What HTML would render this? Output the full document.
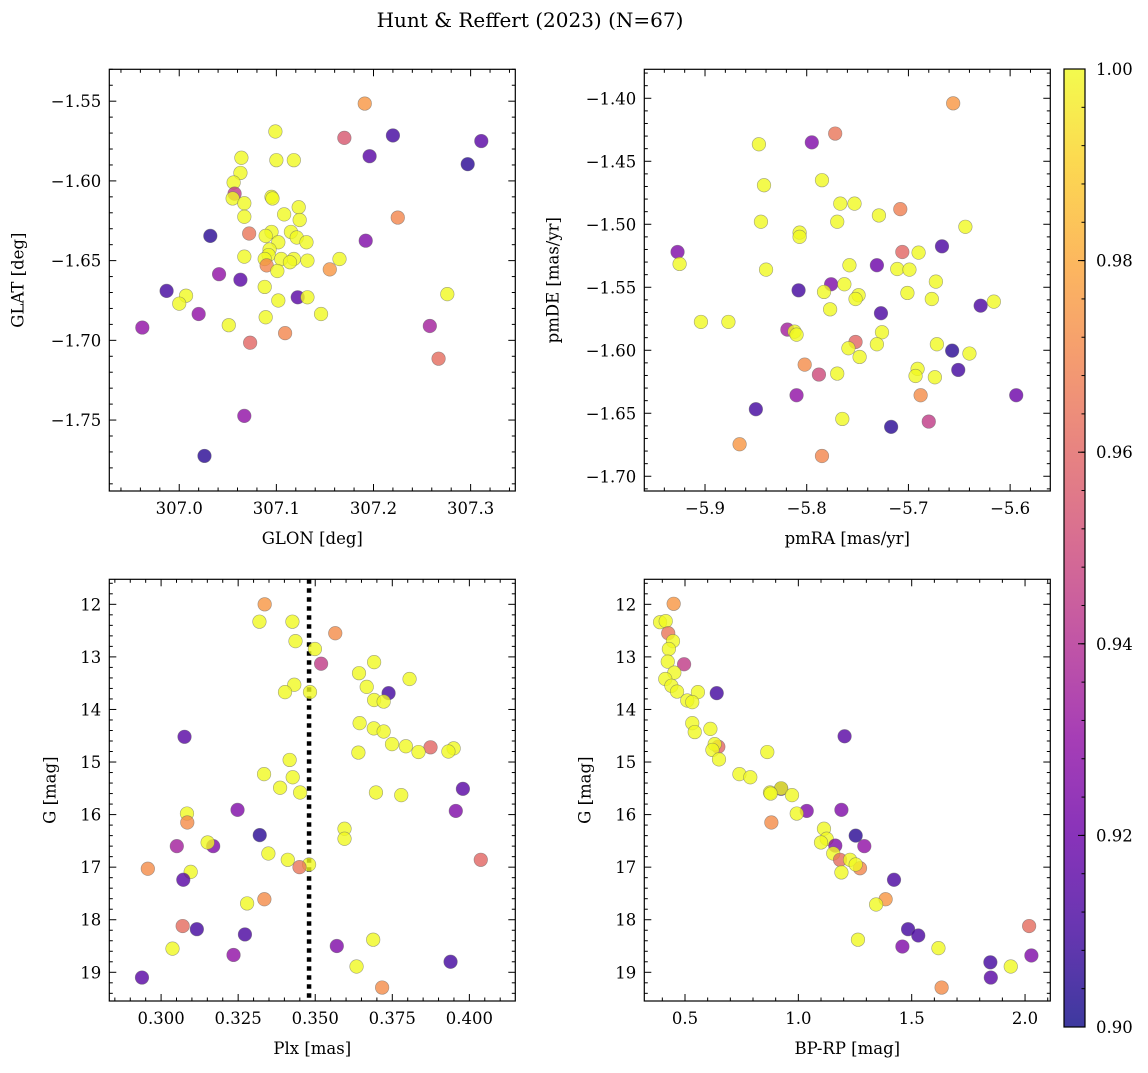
<!DOCTYPE html>
<html><head><meta charset="utf-8"><style>
body{margin:0;background:#fff;}
svg text{font-family:"DejaVu Serif","Liberation Serif",serif;fill:#000;}
</style></head><body>
<svg id="fig" width="1148" height="1068" xmlns="http://www.w3.org/2000/svg">
<rect width="1148" height="1068" fill="#fff"/>
<text x="530" y="27" font-size="20" text-anchor="middle">Hunt &amp; Reffert (2023) (N=67)</text>
</svg>
<script>
// Panel 1: GLON vs GLAT
const glon1=[307.191,307.099,307.170,307.220,307.311,307.196,307.297,307.064,307.100,307.118,307.063,307.056,307.057,307.055,307.095,307.096,307.067,307.123,307.108,307.067,307.124,307.225,307.032,307.072,307.095,307.089,307.115,307.121,307.102,307.131,307.192,307.093,307.092,307.067,307.088,307.105,307.118,307.114,307.132,307.165,307.090,307.101,307.155,307.041,307.063,307.088,306.987,307.007,307.000,307.122,307.132,307.102,307.276,307.020,307.146,307.089,307.051,306.962,307.258,307.109,307.073,307.267,307.067,307.026];
const glat1=[-1.5515,-1.569,-1.573,-1.5715,-1.575,-1.5845,-1.5895,-1.5855,-1.587,-1.587,-1.595,-1.601,-1.608,-1.611,-1.610,-1.611,-1.614,-1.6165,-1.621,-1.6225,-1.6245,-1.623,-1.6345,-1.633,-1.632,-1.6345,-1.632,-1.6355,-1.6385,-1.6385,-1.6375,-1.643,-1.6465,-1.6475,-1.649,-1.649,-1.649,-1.651,-1.650,-1.649,-1.653,-1.6565,-1.6555,-1.6585,-1.662,-1.6665,-1.669,-1.672,-1.677,-1.673,-1.673,-1.675,-1.671,-1.6835,-1.6835,-1.6855,-1.6905,-1.692,-1.691,-1.6955,-1.7015,-1.7115,-1.7474,-1.7725];
const prob1=[0.975,1,0.955,0.91,0.915,0.915,0.905,1,1,1,1,1,0.945,1,1,1,1,1,1,1,1,0.97,0.905,0.965,1,1,1,1,1,1,0.925,1,1,1,1,1,1,1,1,1,0.97,1,0.975,0.93,0.915,1,0.91,1,1,0.915,1,1,1,0.93,1,1,1,0.93,0.935,0.97,0.96,0.962,0.93,0.905];
// Panel 2: pmRA vs pmDE
const pmra2=[-5.656,-5.772,-5.795,-5.847,-5.785,-5.842,-5.767,-5.753,-5.708,-5.729,-5.845,-5.770,-5.644,-5.807,-5.807,-5.667,-5.927,-5.706,-5.690,-5.925,-5.758,-5.731,-5.840,-5.711,-5.699,-5.673,-5.776,-5.763,-5.808,-5.783,-5.701,-5.749,-5.752,-5.677,-5.629,-5.616,-5.777,-5.727,-5.904,-5.877,-5.819,-5.812,-5.810,-5.726,-5.752,-5.759,-5.731,-5.672,-5.657,-5.640,-5.748,-5.802,-5.691,-5.788,-5.770,-5.693,-5.651,-5.674,-5.810,-5.688,-5.594,-5.850,-5.765,-5.680,-5.717,-5.866,-5.785];
const pmde2=[-1.404,-1.428,-1.435,-1.4365,-1.465,-1.469,-1.4836,-1.4836,-1.488,-1.493,-1.498,-1.498,-1.502,-1.5066,-1.510,-1.5175,-1.522,-1.522,-1.5225,-1.5315,-1.5325,-1.5325,-1.536,-1.5355,-1.536,-1.5455,-1.5476,-1.5476,-1.5524,-1.5537,-1.5545,-1.5563,-1.5593,-1.5593,-1.5646,-1.5614,-1.5675,-1.5706,-1.5775,-1.5775,-1.5836,-1.5852,-1.5876,-1.5857,-1.5934,-1.5984,-1.5952,-1.5952,-1.6003,-1.6026,-1.6053,-1.6114,-1.6148,-1.6193,-1.6185,-1.6204,-1.6156,-1.6214,-1.6357,-1.6357,-1.6357,-1.6468,-1.6545,-1.6566,-1.6608,-1.6746,-1.6839];
const prob2=[0.975,0.965,0.925,1,1,1,1,1,0.968,1,1,1,1,1,1,0.912,0.925,0.96,1,1,1,0.92,1,1,1,1,0.925,1,0.91,1,1,1,1,1,0.912,1,1,0.912,1,1,0.935,1,1,1,0.96,1,1,1,0.905,1,1,0.972,1,0.95,1,1,0.91,1,0.93,0.972,0.92,0.91,1,0.945,0.905,0.975,0.97];
// Panel 3: Plx vs G
const plx3=[0.3336,0.3319,0.3426,0.3565,0.3436,0.3499,0.3519,0.3691,0.3642,0.3806,0.3432,0.3667,0.3402,0.3483,0.3738,0.3691,0.3722,0.3644,0.3690,0.3722,0.3749,0.3794,0.3874,0.3835,0.3949,0.3932,0.3640,0.3076,0.3417,0.3334,0.3427,0.3386,0.3451,0.3697,0.3779,0.3979,0.3248,0.3084,0.3085,0.3956,0.3595,0.3595,0.3320,0.3051,0.3169,0.3151,0.3348,0.3411,0.3480,0.3449,0.4037,0.2957,0.3096,0.3072,0.3335,0.3279,0.3070,0.3116,0.3272,0.3037,0.3570,0.3688,0.3235,0.3634,0.3939,0.2938,0.3717];
const g3=[12.00,12.33,12.33,12.55,12.70,12.85,13.13,13.10,13.31,13.42,13.53,13.57,13.67,13.67,13.69,13.82,13.85,14.26,14.36,14.42,14.66,14.70,14.72,14.81,14.74,14.80,14.82,14.52,14.96,15.23,15.29,15.49,15.58,15.58,15.63,15.51,15.91,15.98,16.15,15.93,16.27,16.46,16.39,16.60,16.60,16.53,16.74,16.86,16.95,17.00,16.86,17.03,17.09,17.24,17.61,17.69,18.12,18.18,18.28,18.55,18.50,18.38,18.67,18.89,18.80,19.10,19.29];
const prob3=[0.975,1,1,0.972,1,1,0.945,1,1,1,1,1,1,1,0.91,1,1,1,1,1,1,1,0.96,1,1,1,1,0.915,1,1,1,1,1,1,1,0.915,0.925,1,0.972,0.925,1,1,0.905,0.935,0.925,1,1,1,1,0.965,0.96,0.972,1,0.915,0.972,1,0.962,0.91,0.912,1,0.925,1,0.93,1,0.91,0.915,0.972];
const plxMean=0.348;
// Panel 4: BP-RP vs G
const bprp4=[0.450,0.390,0.415,0.426,0.447,0.429,0.496,0.424,0.453,0.413,0.440,0.465,0.557,0.640,0.510,0.532,0.532,0.543,0.612,1.204,0.647,0.631,0.621,0.650,0.863,0.740,0.788,0.924,0.924,0.875,0.878,0.972,1.037,0.993,1.190,0.881,1.113,1.125,1.100,1.163,1.253,1.291,1.154,1.184,1.228,1.272,1.253,1.190,1.422,1.385,1.343,1.484,1.529,1.263,1.459,1.618,2.018,2.028,1.847,1.937,1.849,1.632];
const g4=[11.99,12.34,12.32,12.55,12.70,12.85,13.14,13.09,13.30,13.42,13.55,13.66,13.67,13.69,13.83,13.86,14.26,14.43,14.37,14.51,14.71,14.66,14.77,14.95,14.81,15.23,15.29,15.51,15.50,15.58,15.60,15.63,15.93,15.98,15.91,16.15,16.27,16.46,16.53,16.59,16.40,16.60,16.74,16.86,16.86,17.02,16.95,17.10,17.24,17.61,17.71,18.18,18.30,18.38,18.51,18.54,18.12,18.68,18.81,18.89,19.10,19.29];
const prob4=[0.975,1,1,0.965,1,1,0.945,1,1,1,1,1,1,0.91,1,1,1,1,1,0.915,0.96,1,1,1,1,1,1,0.912,1,1,1,1,0.925,1,0.925,0.972,1,1,1,0.925,0.905,0.93,1,0.962,1,0.97,1,1,0.912,0.975,1,0.91,0.912,1,0.925,1,0.962,0.925,0.91,1,0.915,0.972];
const cbTicks=[0.90,0.92,0.94,0.96,0.98,1.00];

const NS='http://www.w3.org/2000/svg';
const svg=document.getElementById('fig');
const stops=['#0d0887','#41049d','#6a00a8','#8f0da4','#b12a90','#cc4778','#e16462','#f2844b','#fca636','#fcce25','#f0f921'];
function hx(h){return [parseInt(h.substr(1,2),16),parseInt(h.substr(3,2),16),parseInt(h.substr(5,2),16)];}
function plasma(t){t=Math.max(0,Math.min(1,t));const f=t*10;const i=Math.min(9,Math.floor(f));const u=f-i;const a=hx(stops[i]),b=hx(stops[i+1]);
return 'rgb('+a.map((v,k)=>Math.round(v+(b[k]-v)*u)).join(',')+')';}
function cmap(p){return plasma((p-0.9)/0.1);}
function el(tag,attrs,parent){const e=document.createElementNS(NS,tag);for(const k in attrs)e.setAttribute(k,attrs[k]);(parent||svg).appendChild(e);return e;}
function fmt(v,d){return (v<0?'\u2212':'')+Math.abs(v).toFixed(d);}
const FS=16.5;

function panel(o){
  const g=el('g',{});
  
  
  const sx=v=>o.x0+(v-o.xmin)/(o.xmax-o.xmin)*(o.x1-o.x0);
  const sy=o.inv? (v=>o.y0+(v-o.ymin)/(o.ymax-o.ymin)*(o.y1-o.y0)) : (v=>o.y1-(v-o.ymin)/(o.ymax-o.ymin)*(o.y1-o.y0));
  if(o.vline!==undefined){
    const l=el('line',{x1:sx(o.vline),x2:sx(o.vline),y1:o.y0,y2:o.y1,stroke:'#000','stroke-width':4.5,'stroke-dasharray':'4.5 4.5'},g);
    
    
  }
  for(let i=0;i<o.xs.length;i++){
    const c=el('circle',{cx:sx(o.xs[i]),cy:sy(o.ys[i]),r:6.8,fill:cmap(o.cs[i]),'fill-opacity':0.8,stroke:'#666','stroke-opacity':0.6,'stroke-width':0.6},g);
    
    
  }
  const fr=el('rect',{x:o.x0,y:o.y0,width:o.x1-o.x0,height:o.y1-o.y0,fill:'none',stroke:'#000','stroke-width':1.2},g);
  
  
  const eps=1e-9;
  for(let v=Math.ceil(o.xmin/o.xminor-eps)*o.xminor;v<=o.xmax+eps;v+=o.xminor){
    const X=sx(v);const major=Math.abs(v/o.xmajor-Math.round(v/o.xmajor))<1e-4;const L=major?7:3.5;
    el('line',{x1:X,x2:X,y1:o.y1,y2:o.y1-L,stroke:'#000','stroke-width':1},g);
    el('line',{x1:X,x2:X,y1:o.y0,y2:o.y0+L,stroke:'#000','stroke-width':1},g);
    if(major){const t=el('text',{x:X,y:o.y1+23,'font-size':FS,'text-anchor':'middle'},g);t.textContent=fmt(v,o.xd);
      }
  }
  for(let v=Math.ceil(o.ymin/o.yminor-eps)*o.yminor;v<=o.ymax+eps;v+=o.yminor){
    const Y=sy(v);const major=Math.abs(v/o.ymajor-Math.round(v/o.ymajor))<1e-4;const L=major?7:3.5;
    el('line',{x1:o.x0,x2:o.x0+L,y1:Y,y2:Y,stroke:'#000','stroke-width':1},g);
    el('line',{x1:o.x1,x2:o.x1-L,y1:Y,y2:Y,stroke:'#000','stroke-width':1},g);
    if(major){const t=el('text',{x:o.x0-8,y:Y+6,'font-size':FS,'text-anchor':'end'},g);t.textContent=fmt(v,o.yd);
      }
  }
  const xl=el('text',{x:(o.x0+o.x1)/2,y:o.y1+53,'font-size':FS,'text-anchor':'middle'},g);xl.textContent=o.xlabel;
  
  const yx=o.x0-o.ylOff, yy=(o.y0+o.y1)/2;
  const yl=el('text',{x:yx,y:yy,'font-size':FS,'text-anchor':'middle',transform:'rotate(-90 '+yx+' '+yy+')'},g);yl.textContent=o.ylabel;
  
}

panel({name:'glon-glat-panel',x0:109.3,x1:515.3,y0:69.3,y1:491,xmin:306.928,xmax:307.346,ymin:-1.7945,ymax:-1.530,
  xs:glon1,ys:glat1,cs:prob1,xmajor:0.1,xminor:0.02,ymajor:0.05,yminor:0.01,xd:1,yd:2,xlabel:'GLON [deg]',ylabel:'GLAT [deg]',ylOff:86});
panel({name:'proper-motion-panel',x0:644.3,x1:1050.3,y0:69.3,y1:491,xmin:-5.9597,xmax:-5.5605,ymin:-1.7117,ymax:-1.377,
  xs:pmra2,ys:pmde2,cs:prob2,xmajor:0.1,xminor:0.02,ymajor:0.05,yminor:0.01,xd:1,yd:2,xlabel:'pmRA [mas/yr]',ylabel:'pmDE [mas/yr]',ylOff:86});
panel({name:'parallax-magnitude-panel',x0:109.3,x1:515.3,y0:579.3,y1:1001,xmin:0.2832,xmax:0.4149,ymin:11.524,ymax:19.546,inv:true,
  xs:plx3,ys:g3,cs:prob3,xmajor:0.025,xminor:0.005,ymajor:1,yminor:0.2,xd:3,yd:0,xlabel:'Plx [mas]',ylabel:'G [mag]',ylOff:54,vline:plxMean});
panel({name:'color-magnitude-panel',x0:644.3,x1:1050.3,y0:579.3,y1:1001,xmin:0.3205,xmax:2.1114,ymin:11.524,ymax:19.546,inv:true,
  xs:bprp4,ys:g4,cs:prob4,xmajor:0.5,xminor:0.1,ymajor:1,yminor:0.2,xd:1,yd:0,xlabel:'BP-RP [mag]',ylabel:'G [mag]',ylOff:54});

const cb=el('g',{});


const cbx=1064,cbw=21,cby0=69,cby1=1027;
const defs=el('defs',{},cb);
const lg=el('linearGradient',{id:'cbg',x1:0,y1:1,x2:0,y2:0},defs);
for(let i=0;i<=20;i++){el('stop',{offset:(i/20),'stop-color':plasma(i/20)},lg);}
el('rect',{x:cbx,y:cby0,width:cbw,height:cby1-cby0,fill:'url(#cbg)','fill-opacity':0.8},cb);
el('rect',{x:cbx,y:cby0,width:cbw,height:cby1-cby0,fill:'none',stroke:'#000','stroke-width':1.2},cb);
const cy=v=>cby1-(v-0.9)/0.1*(cby1-cby0);
for(let v=0.9;v<=1.0001;v+=0.004){el('line',{x1:cbx+cbw,x2:cbx+cbw-3.5,y1:cy(v),y2:cy(v),stroke:'#000','stroke-width':1},cb);}
cbTicks.forEach(v=>{
  el('line',{x1:cbx+cbw,x2:cbx+cbw-7,y1:cy(v),y2:cy(v),stroke:'#000','stroke-width':1},cb);
  const t=el('text',{x:cbx+cbw+11,y:cy(v)+6,'font-size':FS},cb);t.textContent=v.toFixed(2);
  
  
});
</script>
</body></html>
